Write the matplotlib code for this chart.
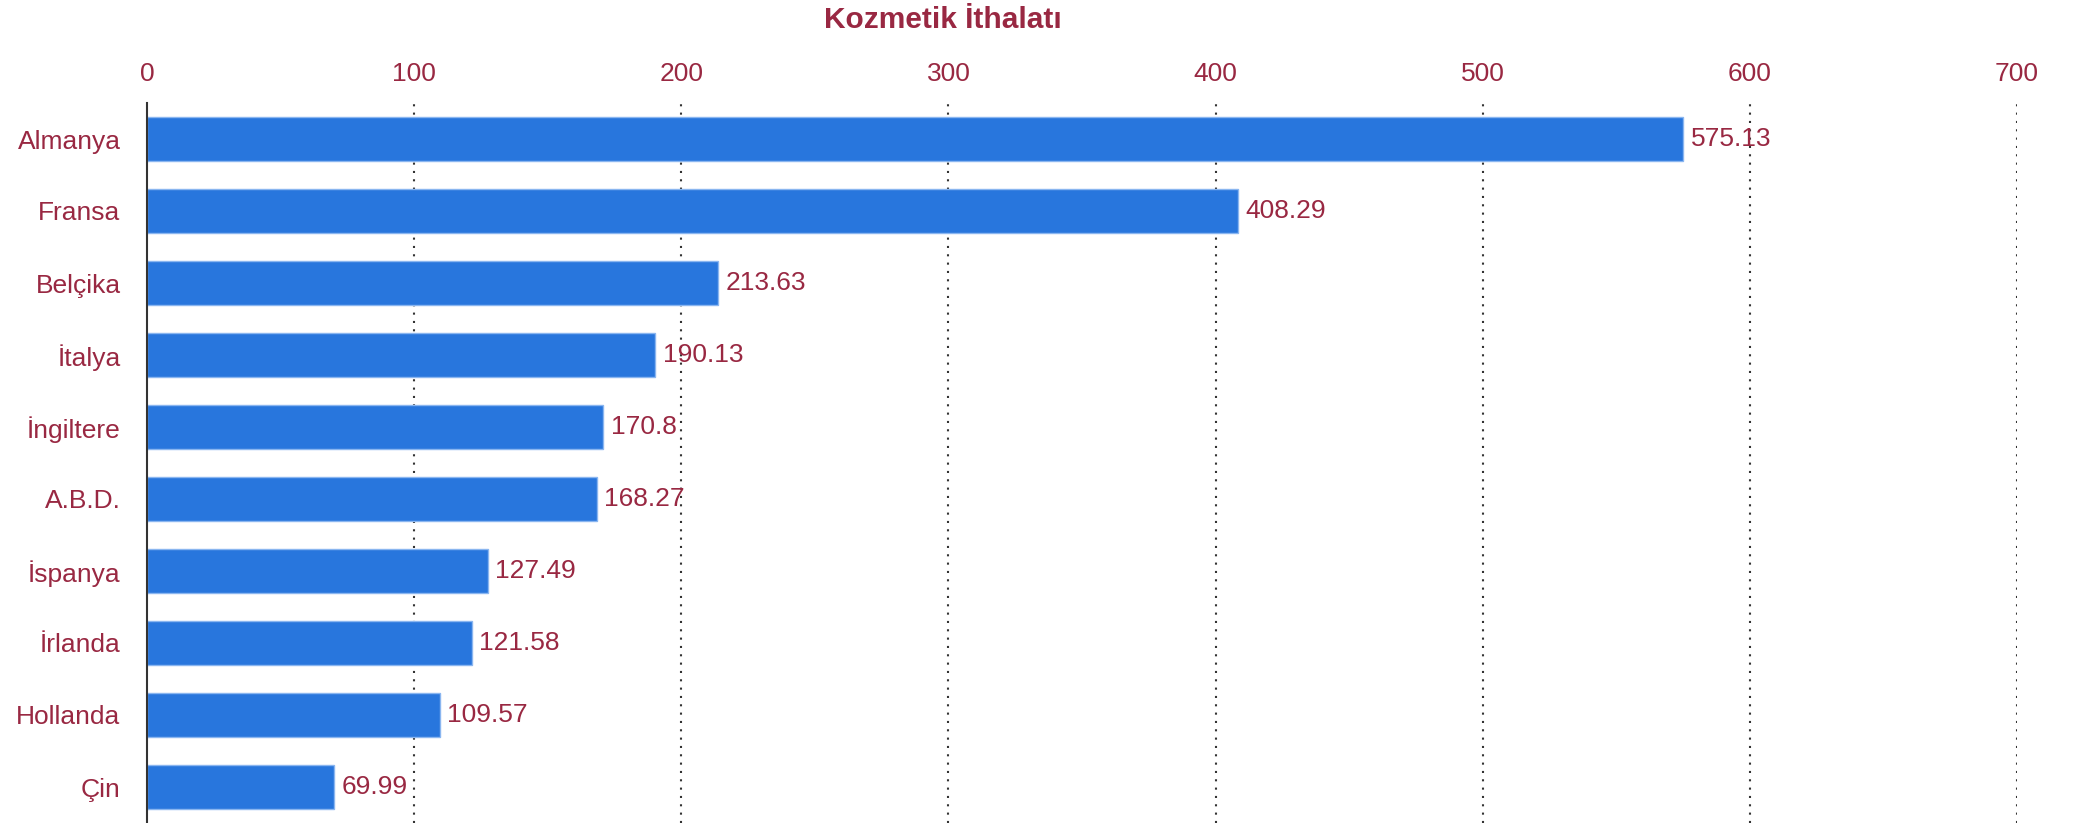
import matplotlib
matplotlib.use('Agg')
import matplotlib.pyplot as plt
from matplotlib import rcParams

rcParams['font.family'] = ['Liberation Sans', 'DejaVu Sans']

# data
countries = ['Almanya', 'Fransa', 'Belçika', 'İtalya', 'İngiltere',
             'A.B.D.', 'İspanya', 'İrlanda', 'Hollanda', 'Çin']
values = [575.13, 408.29, 213.63, 190.13, 170.8, 168.27, 127.49, 121.58, 109.57, 69.99]
xticks = [0, 100, 200, 300, 400, 500, 600, 700]

txt_color = '#992842'
bar_color = '#2876dd'

fig = plt.figure(figsize=(20.74, 8.23), dpi=100)
ax = fig.add_axes([147 / 2074, 0, 1870 / 2074, 720 / 823])

pos = list(range(len(countries)))
ax.barh(pos, values, height=0.6, color=bar_color, edgecolor='#8ab6f0', linewidth=1, zorder=2)

for p, v in zip(pos, values):
    ax.annotate(f'{v:g}', xy=(v, p), xytext=(5.5, 0), textcoords='offset points',
                va='center', ha='left', fontsize=19, color=txt_color, zorder=3)

ax.set_xlim(0, 700)
ax.set_ylim(len(countries) - 0.5, -0.5)
ax.set_yticks(pos)
ax.set_yticklabels(countries)
ax.set_xticks(xticks)
ax.xaxis.tick_top()
ax.tick_params(axis='x', length=0, pad=12, labelsize=19, labelcolor=txt_color)
ax.tick_params(axis='y', length=0, pad=19, labelsize=19, labelcolor=txt_color)

for s in ['top', 'right', 'bottom']:
    ax.spines[s].set_visible(False)
ax.spines['left'].set_color('#333333')
ax.spines['left'].set_linewidth(1.5)

for x in xticks[1:]:
    ax.axvline(x, color='#333333', linestyle=(0, (1, 3)), linewidth=1.5, zorder=1)

fig.text(943 / 2074, 1 - 20 / 823, 'Kozmetik İthalatı', ha='center', va='center',
         fontsize=21.5, fontweight='bold', color=txt_color)

plt.savefig('out.png', dpi=100)
